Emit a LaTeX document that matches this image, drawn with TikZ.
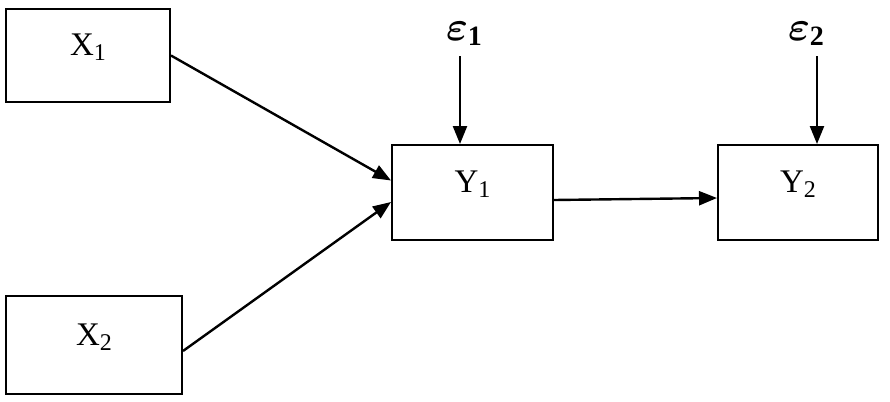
\documentclass[tikz,border=0pt]{standalone}
\usepackage{fontspec}
\setmainfont{Liberation Serif}
\usepackage{bm}
\usepackage{tikz}
\usetikzlibrary{arrows.meta,positioning,calc}

\newcommand{\varlab}[2]{#1\raisebox{-2.5pt}{\fontsize{12}{12}\selectfont #2}}
\newcommand{\errlab}[1]{$\bm{\varepsilon}$\raisebox{-2.5pt}{\fontsize{14}{14}\selectfont$\mathbf{#1}$}}

\begin{document}
\begin{tikzpicture}[
  x=0.5pt,y=-0.5pt,
  varbox/.style={draw,line width=1pt,rectangle,inner sep=0pt,
                 minimum width=#1,text height=1.2ex,text depth=1.2ex,
                 font=\fontsize{16.5}{18}\selectfont},
  errnode/.style={inner sep=0pt,font=\fontsize{20}{22}\selectfont},
  arrow/.style={-{Triangle[length=9pt,width=7pt]},line width=1.2pt}
]
\useasboundingbox (0,0) rectangle (890,402);
% observed variables
\node[varbox=82pt,minimum height=46.5pt] (x1) at (88,55.5) {\varlab{X}{1}};
\node[varbox=88pt,minimum height=49pt] (x2) at (94,345) {\varlab{X}{2}};
\node[varbox=80.5pt,minimum height=47.5pt] (y1) at (472.5,192.5) {\varlab{Y}{1}};
\node[varbox=80pt,minimum height=47.5pt] (y2) at (798,192.5) {\varlab{Y}{2}};
% error terms
\node[errnode] (e1) at (464,34) {\errlab{1}};
\node[errnode] (e2) at (806,34) {\errlab{2}};
\coordinate (e1a) at (460,56);
\coordinate (e2a) at (817,56);
% paths
\draw[arrow] (x1.east) -- ([yshift=6pt]y1.west);
\draw[arrow] ([yshift=-3pt]x2.east) -- ([yshift=-4.75pt]y1.west);
\draw[arrow] ([yshift=-3.75pt]y1.east) -- ([yshift=-2.75pt]y2.west);
\draw[arrow] (e1a) -- (e1a |- y1.north);
\draw[arrow] (e2a) -- (e2a |- y2.north);
\end{tikzpicture}
\end{document}
